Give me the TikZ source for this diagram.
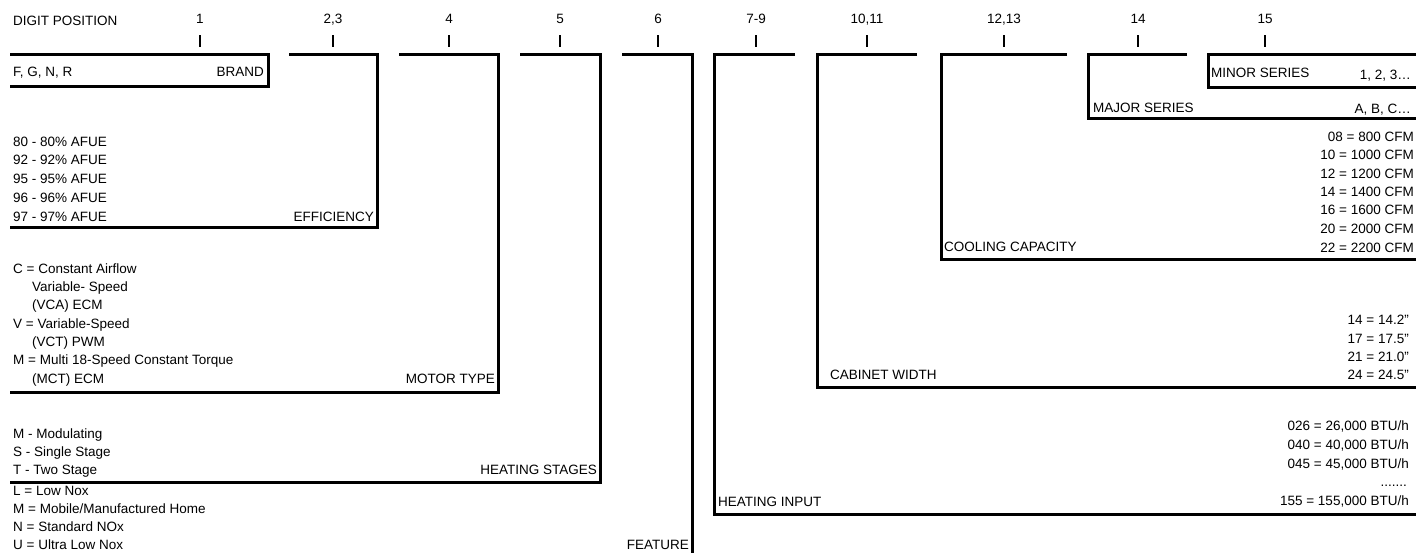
\documentclass[tikz,border=0pt]{standalone}
\usepackage{fontspec}
\setmainfont{Liberation Sans}
\newcommand{\lblfont}{\fontsize{13.5}{16}\selectfont}
\tikzset{
  bar/.style={line width=3pt, line join=miter},
  tickline/.style={line width=2pt},
  lbl/.style={inner sep=0pt, font=\lblfont},
  lt/.style={lbl, anchor=base west},
  rt/.style={lbl, anchor=base east},
  hd/.style={lbl, anchor=base}
}
\begin{document}
\begin{tikzpicture}[x=1pt,y=-1pt]
\useasboundingbox (0,0) rectangle (1416,552);
% header
\node[lt] (hdr) at (13,25) {DIGIT POSITION};
\foreach \x/\t/\n in {200/1/a,333/{2,3}/b,449/4/c,560/5/d,658/6/e,756/7-9/f,867/{10,11}/g,1004/{12,13}/h,1138/14/i,1265/15/j}{
  \node[hd] (d\n) at (\x,23) {\t};
  \coordinate (t\n a) at (\x,35);
  \coordinate (t\n b) at (\x,47);
  \draw[tickline] (t\n a) -- (t\n b);
}
% brackets
\draw[bar] (10,54) -- (268,54) -- (268,86) -- (10,86);
\draw[bar] (289,54) -- (377,54) -- (377,227) -- (10,227);
\draw[bar] (399,54) -- (498,54) -- (498,392) -- (10,392);
\draw[bar] (520,54) -- (600,54) -- (600,482) -- (10,482);
\draw[bar] (622,54) -- (692,54) -- (692,553);
\draw[bar] (795,54) -- (714,54) -- (714,514) -- (1417,514);
\draw[bar] (917,54) -- (817,54) -- (817,387) -- (1417,387);
\draw[bar] (1067,54) -- (941,54) -- (941,259) -- (1417,259);
\draw[bar] (1187,54) -- (1088,54) -- (1088,118) -- (1417,118);
\draw[bar] (1417,54) -- (1208,54) -- (1208,87) -- (1417,87);
% brand
\node[lt] (br1) at (13,76) {F, G, N, R};
\node[rt] (brt) at (264,76) {BRAND};
% efficiency
\node[lt] (ef1) at (13,146) {80 - 80\% AFUE};
\node[lt] (ef2) at (13,164) {92 - 92\% AFUE};
\node[lt] (ef3) at (13,183) {95 - 95\% AFUE};
\node[lt] (ef4) at (13,202) {96 - 96\% AFUE};
\node[lt] (ef5) at (13,221) {97 - 97\% AFUE};
\node[rt] (eft) at (374,221) {EFFICIENCY};
% motor
\node[lt] (mo1) at (13,273) {C = Constant Airflow};
\node[lt] (mo2) at (32,291) {Variable- Speed};
\node[lt] (mo3) at (32,309) {(VCA) ECM};
\node[lt] (mo4) at (13,328) {V = Variable-Speed};
\node[lt] (mo5) at (32,346) {(VCT) PWM};
\node[lt] (mo6) at (13,364) {M = Multi 18-Speed Constant Torque};
\node[lt] (mo7) at (32,383) {(MCT) ECM};
\node[rt] (mot) at (495,383) {MOTOR TYPE};
% heating stages
\node[lt] (hs1) at (13,438) {M - Modulating};
\node[lt] (hs2) at (13,456) {S - Single Stage};
\node[lt] (hs3) at (13,474) {T - Two Stage};
\node[rt] (hst) at (597,474) {HEATING STAGES};
% feature
\node[lt] (fe1) at (13,495) {L = Low Nox};
\node[lt] (fe2) at (13,513) {M = Mobile/Manufactured Home};
\node[lt] (fe3) at (13,531) {N = Standard NOx};
\node[lt] (fe4) at (13,549) {U = Ultra Low Nox};
\node[rt] (fet) at (689,549) {FEATURE};
% heating input
\node[lt] (hit) at (718,506) {HEATING INPUT};
\node[rt] (hi1) at (1409,430) {026 = 26,000 BTU/h};
\node[rt] (hi2) at (1409,449) {040 = 40,000 BTU/h};
\node[rt] (hi3) at (1409,468) {045 = 45,000 BTU/h};
\node[rt] (hi4) at (1407,486) {.......};
\node[rt] (hi5) at (1409,505) {155 = 155,000 BTU/h};
% cabinet width
\node[lt] (cwt) at (830,379) {CABINET WIDTH};
\node[rt] (cw1) at (1409,324) {14 = 14.2"};
\node[rt] (cw2) at (1409,343) {17 = 17.5"};
\node[rt] (cw3) at (1409,361) {21 = 21.0"};
\node[rt] (cw4) at (1409,379) {24 = 24.5"};
% cooling capacity
\node[lt] (cct) at (944,251) {COOLING CAPACITY};
\node[rt] (cc1) at (1414,141) {08 = 800 CFM};
\node[rt] (cc2) at (1414,159) {10 = 1000 CFM};
\node[rt] (cc3) at (1414,178) {12 = 1200 CFM};
\node[rt] (cc4) at (1414,196) {14 = 1400 CFM};
\node[rt] (cc5) at (1414,214) {16 = 1600 CFM};
\node[rt] (cc6) at (1414,233) {20 = 2000 CFM};
\node[rt] (cc7) at (1414,252) {22 = 2200 CFM};
% major / minor series
\node[lt] (mjt) at (1093,112) {MAJOR SERIES};
\node[rt] (mj1) at (1411,113) {A, B, C…};
\node[lt] (mnt) at (1211,77) {MINOR SERIES};
\node[rt] (mn1) at (1411,79) {1, 2, 3…};
\end{tikzpicture}
\end{document}
